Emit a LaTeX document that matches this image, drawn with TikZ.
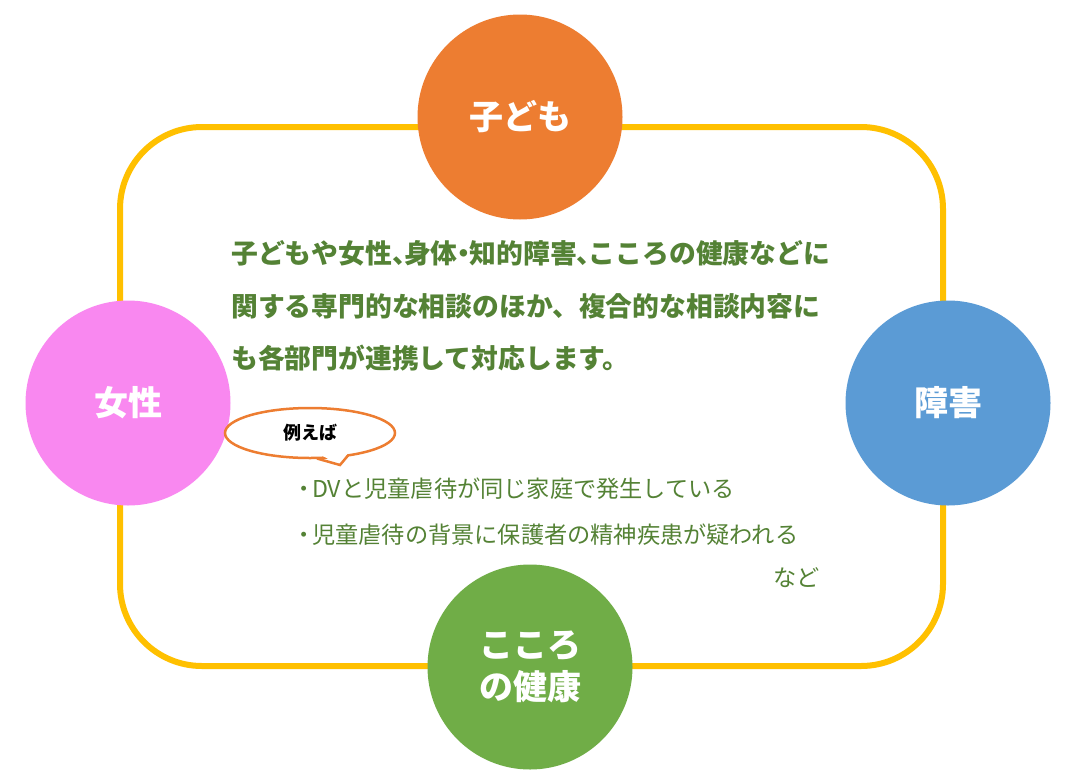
\documentclass[tikz,border=0pt]{standalone}
\usepackage{fontspec}
\setmainfont{Noto Sans CJK JP}
\usetikzlibrary{shapes.geometric}
\definecolor{frame}{HTML}{FFC000}
\definecolor{corange}{HTML}{ED7D31}
\definecolor{cpink}{HTML}{F988F0}
\definecolor{cblue}{HTML}{5B9BD5}
\definecolor{cgreen}{HTML}{70AD47}
\definecolor{tgreen}{HTML}{548235}
\newcommand{\hc}{\makebox[0.45em][l]{、}}
\newcommand{\hd}{\makebox[0.45em][c]{・}}
\tikzset{
  topic/.style={circle, minimum size=205pt, inner sep=0pt, text=white,
    font=\fontsize{34}{44}\selectfont\bfseries, align=center},
  mainline/.style={anchor=west, inner sep=0pt, text=tgreen,
    font=\fontsize{26.8}{30}\selectfont\bfseries},
  subline/.style={anchor=west, inner sep=0pt, text=tgreen,
    font=\fontsize{23.2}{27}\selectfont},
}
\begin{document}
\begin{tikzpicture}[x=1pt,y=-1pt]
\useasboundingbox (0,0) rectangle (1075,779);
\fill[white] (0,0) rectangle (1075,779);
\draw[frame, line width=6pt, rounded corners=82pt] (120,127) rectangle (943,666);
\node[topic, fill=corange] (kodomo) at (520,117) {子ども};
\node[topic, fill=cpink] (josei) at (128,403) {女性};
\node[topic, fill=cblue] (shogai) at (948,403) {障害};
\node[topic, fill=cgreen] (kokoro) at (530,667) {こころ\\[-2pt]の健康};
\node[mainline] (l1) at (231,253) {子どもや女性\hc 身体\hd 知的障害\hc こころの健康などに};
\node[mainline] (l2) at (231,306) {関する専門的な相談のほか、複合的な相談内容に};
\node[mainline] (l3) at (231,358) {も各部門が連携して対応します。};
% speech bubble
\node[ellipse, draw=corange, fill=white, line width=2.5pt, minimum width=170pt, minimum height=50pt, inner sep=0pt] (bubble) at (310,433) {};
\coordinate (tl) at (317,458.5);
\coordinate (tip) at (340,465);
\coordinate (tr) at (348,455.5);
\fill[white] (315,452) -- (tip) -- (350,450) -- cycle;
\draw[corange, line width=2.5pt, line join=miter] (tl) -- (tip) -- (tr);
\node[font=\fontsize{18}{22}\selectfont\bfseries, inner sep=0pt] (rei) at (bubble.center) {例えば};
\node[subline] (s1) at (296,489) {\makebox[16pt][c]{・}DVと児童虐待が同じ家庭で発生している};
\node[subline] (s2) at (296,535) {\makebox[16pt][c]{・}児童虐待の背景に保護者の精神疾患が疑われる};
\node[subline] (nado) at (773,578) {など};
\end{tikzpicture}
\end{document}
